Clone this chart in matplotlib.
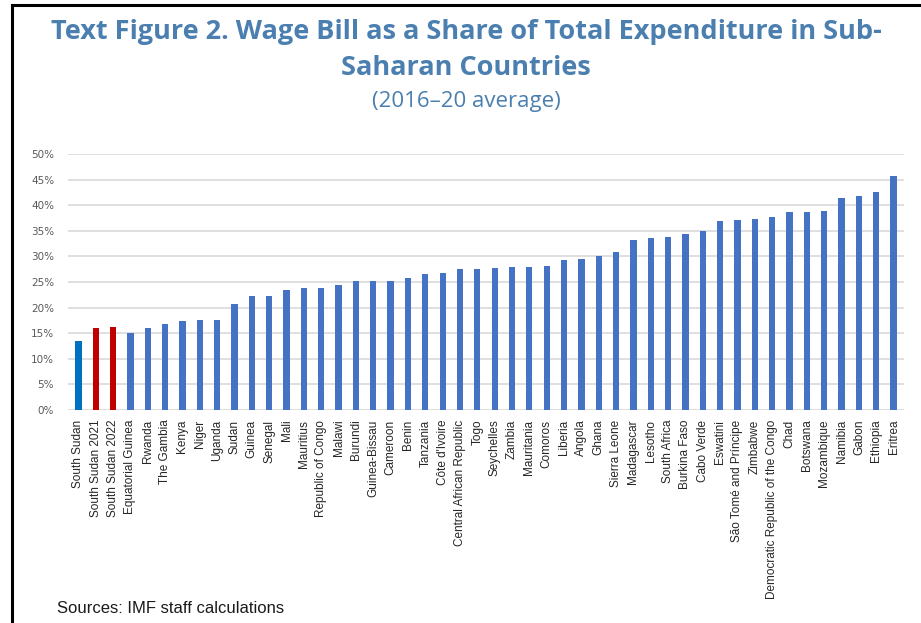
import matplotlib.pyplot as plt
from matplotlib.lines import Line2D
from matplotlib.ticker import FuncFormatter, MultipleLocator

countries = [
    "South Sudan", "South Sudan 2021", "South Sudan 2022", "Equatorial Guinea",
    "Rwanda", "The Gambia", "Kenya", "Niger", "Uganda", "Sudan", "Guinea",
    "Senegal", "Mali", "Mauritius", "Republic of Congo", "Malawi", "Burundi",
    "Guinea-Bissau", "Cameroon", "Benin", "Tanzania", "Côte d'Ivoire",
    "Central African Republic", "Togo", "Seychelles", "Zambia", "Mauritania",
    "Comoros", "Liberia", "Angola", "Ghana", "Sierra Leone", "Madagascar",
    "Lesotho", "South Africa", "Burkina Faso", "Cabo Verde", "Eswatini",
    "São Tomé and Príncipe", "Zimbabwe", "Democratic Republic of the Congo",
    "Chad", "Botswana", "Mozambique", "Namibia", "Gabon", "Ethiopia", "Eritrea",
]
wage_share = [
    13.5, 16.1, 16.3, 15.0, 16.1, 16.8, 17.4, 17.6, 17.6, 20.8, 22.3, 22.3,
    23.4, 23.9, 23.9, 24.5, 25.1, 25.1, 25.1, 25.8, 26.5, 26.7, 27.6, 27.6,
    27.8, 28.0, 28.0, 28.2, 29.2, 29.4, 30.0, 30.9, 33.2, 33.6, 33.8, 34.3,
    34.9, 36.9, 37.1, 37.3, 37.6, 38.6, 38.6, 38.8, 41.5, 41.7, 42.6, 45.8,
]

colors = []
for name in countries:
    if name == "South Sudan":
        colors.append("#0070C0")
    elif name.startswith("South Sudan"):
        colors.append("#C00000")
    else:
        colors.append("#4472C4")

fig = plt.figure(figsize=(9.21, 6.23), dpi=100)
ax = fig.add_axes([68 / 921, 1 - 410 / 623, (904 - 68) / 921, 256 / 623])

x = range(len(countries))
ax.bar(x, wage_share, width=0.36, color=colors, zorder=3)

ax.set_ylim(0, 50)
ax.set_xlim(-0.6, len(countries) - 0.4)
ax.yaxis.set_major_locator(MultipleLocator(5))
ax.yaxis.set_major_formatter(FuncFormatter(lambda v, p: f"{v:.0f}%"))
ax.grid(axis="y", color="#D9D9D9", linewidth=1.2, zorder=0)
for s in ax.spines.values():
    s.set_visible(False)
ax.tick_params(length=0)
ax.tick_params(axis="y", labelsize=7.5, labelcolor="#595959", pad=10)
ax.set_xticks(list(x))
ax.set_xticklabels(countries, rotation=90, fontsize=8.5, color="#262626",
                   family="Liberation Sans")
ax.tick_params(axis="x", pad=7)

title_color = "#4A7FB0"
fig.text(0.506, 1 - 32 / 623,
         "Text Figure 2. Wage Bill as a Share of Total Expenditure in Sub-",
         ha="center", va="center", fontsize=19.5, fontweight="bold",
         color=title_color, family="Open Sans")
fig.text(0.506, 1 - 68 / 623, "Saharan Countries",
         ha="center", va="center", fontsize=19.5, fontweight="bold",
         color=title_color, family="Open Sans")
fig.text(0.506, 1 - 102 / 623, "(2016–20 average)",
         ha="center", va="center", fontsize=16,
         color=title_color, family="Open Sans")

fig.text(57 / 921, 1 - 601 / 623, "Sources: IMF staff calculations",
         ha="left", va="top", fontsize=12, color="#1a1a1a",
         family="Liberation Sans")

# outer frame: top and left edges
fig.add_artist(Line2D([12 / 921, 1], [1 - 5 / 623, 1 - 5 / 623],
                      color="black", linewidth=2.2))
fig.add_artist(Line2D([12 / 921, 12 / 921], [0, 1 - 5 / 623],
                      color="black", linewidth=2.2))

fig.savefig("out.png", dpi=100)
